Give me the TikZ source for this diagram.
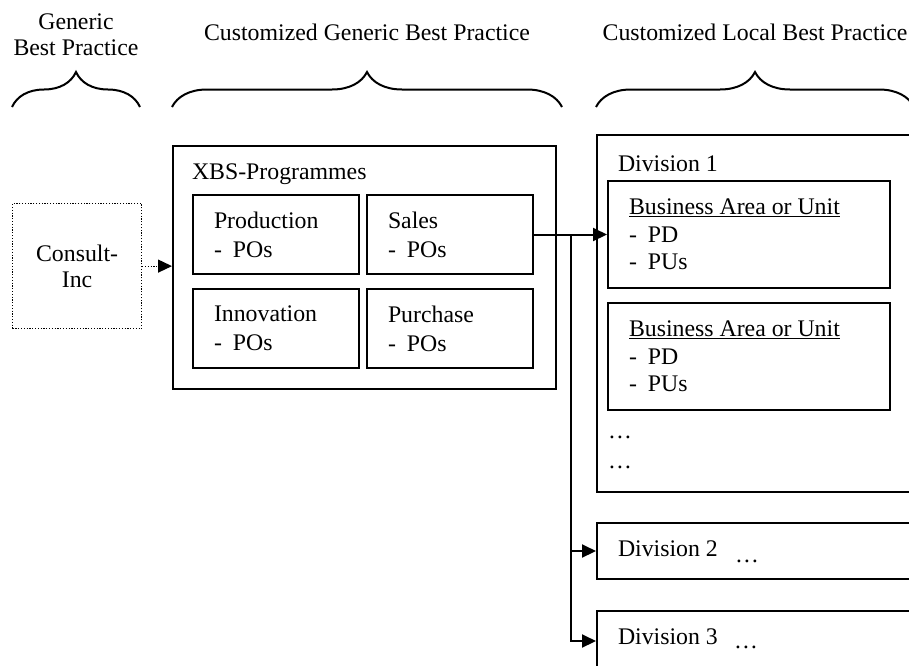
\documentclass[tikz,border=0pt]{standalone}
\usepackage{fontspec}
\setmainfont{Liberation Serif}
\usetikzlibrary{positioning,arrows.meta,decorations.pathreplacing}

\tikzset{
  box/.style={draw,anchor=north west,inner sep=0pt},
  txt/.style={anchor=north west,align=left,inner sep=0pt},
  brc/.style={decorate,decoration={brace,amplitude=35pt}},
  dots/.style={dash pattern=on 1.2pt off 1.6pt,line width=1.2pt},
}
\newcommand{\dsh}{-\hspace{11pt}}

\begin{document}
\begin{tikzpicture}[>={Triangle[length=14pt,width=13pt]},x=1pt,y=-1pt,line width=2pt,
  font=\fontsize{23.8}{27}\selectfont]
\clip (0,0) rectangle (909,665);

% headers and braces
\node[align=center,anchor=north,inner sep=0pt,font=\fontsize{23.8}{26}\selectfont] (hgen) at (76,13) {Generic\\Best Practice};
\node[anchor=base] (hcust) at (367,40) {Customized Generic Best Practice};
\node[anchor=base] (hloc) at (755,40) {Customized Local Best Practice};
\draw[brc] (12,107) -- (140,107);
\draw[brc] (172,107) -- (562,107);
\draw[brc] (596,107) -- (914,107);

% generic
\node[box,dots,minimum width=129pt,minimum height=125pt,align=center,font=\fontsize{23.8}{26}\selectfont] (consult) at (12,203) {Consult-\\Inc};

% programmes
\node[box,minimum width=383pt,minimum height=243pt] (xbs) at (172,145) {};
\node[txt,below right=18pt and 19pt of xbs.north west] (xbst) {XBS-Programmes};
\foreach \nm/\x/\y/\t in {prod/192/194/Production,sales/366/194/Sales,
                          innov/192/288/Innovation,purch/366/288/Purchase}{
  \node[box,minimum width=166pt,minimum height=79pt] (\nm) at (\x,\y) {};
  \node[txt,below right=17pt and 21pt of \nm.north west,font=\fontsize{23.8}{29}\selectfont] (\nm-t) {\t\\\dsh POs};
}

% divisions
\node[box,minimum width=334pt,minimum height=357pt] (div1) at (596,134) {};
\node[txt,below right=21pt and 21pt of div1.north west] (div1-t) {Division 1};
\foreach \nm/\y in {ba1/180,ba2/302}{
  \node[box,minimum width=282pt,minimum height=107pt] (\nm) at (607,\y) {};
  \node[txt,below right=18pt and 21pt of \nm.north west,font=\fontsize{23.8}{27.5}\selectfont] (\nm-t) {\underline{Business Area or Unit}\\\dsh PD\\\dsh PUs};
}
\node[anchor=base west,inner sep=0pt] (more1) at (607,438) {\ldots};
\node[anchor=base west,inner sep=0pt] (more2) at (607,468) {\ldots};

\node[box,minimum width=334pt,minimum height=56pt] (div2) at (596,522) {};
\node[txt,below right=18pt and 21pt of div2.north west] (div2-t) {Division 2};
\node[anchor=base west,inner sep=0pt] (div2-d) at (734,562) {\ldots};
\node[box,minimum width=334pt,minimum height=60pt] (div3) at (596,610) {};
\node[txt,below right=18pt and 21pt of div3.north west] (div3-t) {Division 3};
\node[anchor=base west,inner sep=0pt] (div3-d) at (733,648) {\ldots};

% arrows
\draw[->,dots] (consult.east) -- (consult.east -| xbs.west);
\draw[->] (sales.east) -- coordinate[pos=0.5] (split) (ba1.west);
\draw[->] (split) |- (div2.west);
\draw[->] (split) |- (div3.west);
\end{tikzpicture}
\end{document}
